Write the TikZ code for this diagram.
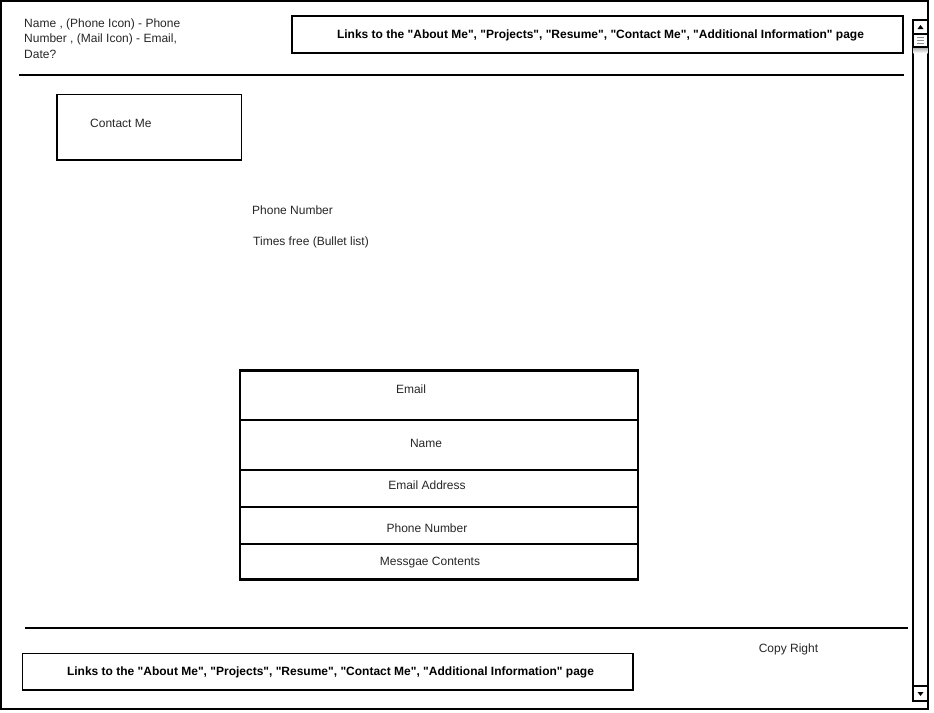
\documentclass[tikz,border=0pt]{standalone}
\usepackage{fontspec}
\setmainfont{Liberation Sans}[Ligatures=TeXOff]
\newcommand\navlinks{Links to the "About Me", "Projects", "Resume", "Contact Me", "Additional Information" page}
\begin{document}
\begin{tikzpicture}[x=1pt,y=-1pt,
  every node/.style={inner sep=0pt,font=\fontsize{12}{15.5}\selectfont},
  thin line/.style={draw=black,line width=1.1pt},
  form line/.style={draw=black,line width=2.2pt},
  bold text/.style={font=\fontsize{12}{15.5}\selectfont\bfseries},
  label/.style={text=black!85}]
\useasboundingbox (0,0) rectangle (934,712);

% page frame
\draw[thin line] (1,1) rectangle (928,709);

% header
\node[label,align=left,anchor=north west] (head) at (24,18.5)
  {Name , (Phone Icon) - Phone\\Number , (Mail Icon) - Email,\\Date?};
\draw[thin line] (292,16) rectangle (903,53);
\node[bold text] (toplinks) at (600.5,35) {\navlinks};
\coordinate (hl) at (19,75);
\coordinate (hr) at (904,75);
\draw[thin line] (hl) -- (hr);

% page title box
\draw[thin line] (57,94.5) rectangle (241.5,160);
\node[label,anchor=west] (title) at (90,123.5) {Contact Me};

% contact details
\node[label,anchor=west] (phone) at (252,210.5) {Phone Number};
\node[label,anchor=west] (times) at (253,242) {Times free (Bullet list)};

% contact form
\draw[form line] (240,370.5) rectangle (638,579.5);
\foreach \y in {420,470,507,544} \draw[form line] (240,\y) -- (638,\y);
\node[label] (fEmail) at (411,389.5) {Email};
\node[label] (fName) at (426,443.5) {Name};
\node[label] (fAddr) at (427,485.5) {Email Address};
\node[label] (fPhone) at (427,528.5) {Phone Number};
\node[label] (fMsg) at (430,562.5) {Messgae Contents};

% footer
\coordinate (fl) at (25,628);
\coordinate (fr) at (908,628);
\draw[thin line] (fl) -- (fr);
\draw[thin line] (22.5,653.5) rectangle (633,690);
\node[bold text] (botlinks) at (330.5,672) {\navlinks};
\node[label] (copy) at (788.5,649) {Copy Right};

% scroll bar
\draw[thin line] (913,20) rectangle (928,701);
\draw[thin line] (913,20) rectangle (928,34);
\fill (920.5,25) -- (923.5,29) -- (917.5,29) -- cycle;
\shade[top color=black!35,bottom color=white] (913.6,47) rectangle (927.4,53);
\draw[thin line,fill=white] (913,34) rectangle (928,47);
\foreach \y in {37.5,40.5,43.5} \draw[black!45,line width=0.8pt] (917,\y) -- (924,\y);
\draw[thin line] (913,686) rectangle (928,701);
\fill (920.5,696) -- (923.5,692) -- (917.5,692) -- cycle;
\end{tikzpicture}
\end{document}
